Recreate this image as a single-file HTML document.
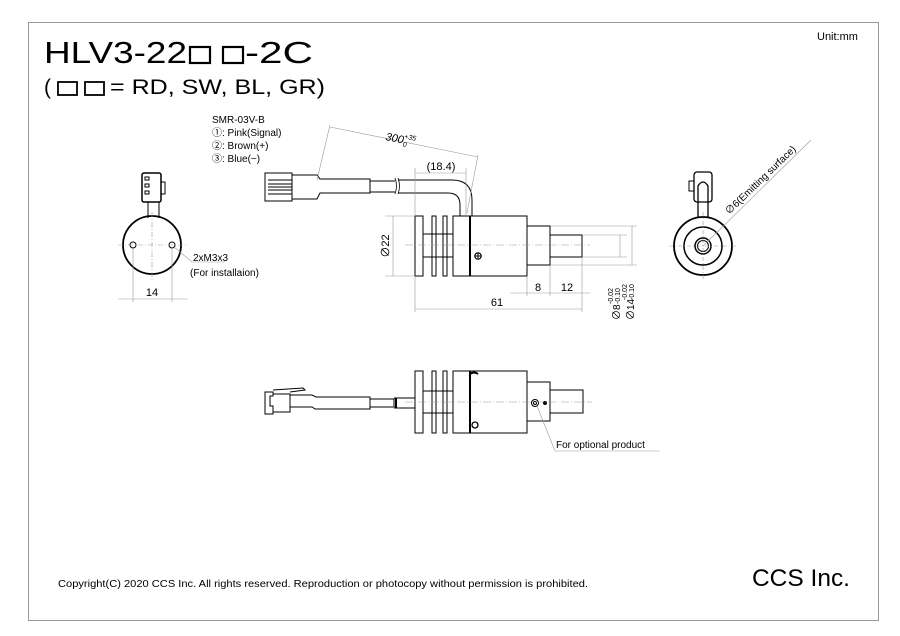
<!DOCTYPE html>
<html><head><meta charset="utf-8"><style>
html,body{margin:0;padding:0;background:#fff;}
svg{display:block;}
text{font-family:"Liberation Sans","Noto Sans CJK JP",sans-serif;fill:#000;}
</style></head><body>
<svg width="900" height="636" viewBox="0 0 900 636" xmlns="http://www.w3.org/2000/svg">
<rect x="28.5" y="22.5" width="850" height="598" fill="none" stroke="#999" stroke-width="1"/>
<text x="44" y="63" font-size="31" textLength="143" lengthAdjust="spacingAndGlyphs">HLV3-22</text>
<rect x="190" y="47" width="20" height="16" fill="none" stroke="#000" stroke-width="2.2"/>
<rect x="223" y="47" width="20" height="16" fill="none" stroke="#000" stroke-width="2.2"/>
<text x="245" y="63" font-size="31" textLength="68" lengthAdjust="spacingAndGlyphs">-2C</text>
<text x="44" y="94" font-size="21">(</text>
<rect x="58" y="82" width="19" height="13" fill="none" stroke="#000" stroke-width="1.8"/>
<rect x="85" y="82" width="19" height="13" fill="none" stroke="#000" stroke-width="1.8"/>
<text x="110" y="94" font-size="21" textLength="215" lengthAdjust="spacingAndGlyphs">= RD, SW, BL, GR)</text>
<text x="817" y="40" font-size="11">Unit:mm</text>
<text x="58" y="587" font-size="10.5" textLength="530" lengthAdjust="spacingAndGlyphs">Copyright(C) 2020 CCS Inc. All rights reserved. Reproduction or photocopy without permission is prohibited.</text>
<text x="752" y="586" font-size="24" textLength="98" lengthAdjust="spacingAndGlyphs">CCS Inc.</text>

<g font-size="10">
<text x="212" y="123">SMR-03V-B</text>
<text x="212" y="136">①: Pink(Signal)</text>
<text x="212" y="149">②: Brown(+)</text>
<text x="212" y="162">③: Blue(−)</text>
</g>

<!-- left view -->
<g fill="none" stroke="#000">
<rect x="142" y="173" width="19" height="29" rx="2" stroke-width="1.5"/>
<rect x="145" y="177" width="4" height="3" stroke-width="1"/><rect x="145" y="184" width="4" height="3" stroke-width="1"/><rect x="145" y="191" width="4" height="3" stroke-width="1"/>
<rect x="161" y="182" width="4" height="12" stroke-width="1"/>
<line x1="148" y1="202" x2="148" y2="218" stroke-width="1"/><line x1="159" y1="202" x2="159" y2="218" stroke-width="1"/>
<circle cx="152" cy="245" r="29" stroke-width="1.8"/>
<circle cx="133" cy="245" r="3" stroke-width="1"/><circle cx="172" cy="245" r="3" stroke-width="1"/>
<g stroke="#999" stroke-width="0.6" stroke-dasharray="5,2,1,2">
<line x1="152" y1="212" x2="152" y2="280"/><line x1="118" y1="245" x2="186" y2="245"/>
</g>
<g stroke="#999" stroke-width="0.6">
<line x1="133" y1="248" x2="133" y2="302"/><line x1="172" y1="248" x2="172" y2="302"/>
<line x1="118" y1="299" x2="188" y2="299"/>
<polyline points="174,247 192,262 225,262"/>
</g>
</g>
<text x="152" y="296" font-size="11" text-anchor="middle">14</text>
<text x="193" y="261" font-size="10">2xM3x3</text>
<text x="190" y="276" font-size="10">(For installaion)</text>

<!-- top main view -->
<g fill="none" stroke="#000" stroke-width="1">
<rect x="265" y="173" width="27" height="28"/>
<line x1="268" y1="180" x2="292" y2="180"/><line x1="268" y1="194" x2="292" y2="194"/>
<line x1="268" y1="184" x2="292" y2="184"/><line x1="268" y1="187" x2="292" y2="187"/><line x1="268" y1="190" x2="292" y2="190"/>
<path d="M292,175 H317 L320,179 H370 V193 H320 L317,199 H292"/>
<path d="M370,181 H395 M370,192 H395"/>
<path d="M398,180 H452 Q472,180 472,200 V216 M398,193 H448 Q460,193 460,205 V216"/>
<path d="M395,178 q3,8 0,16 M398,178 q3,8 0,16" stroke-width="0.8"/>
<rect x="415" y="216" width="8" height="60"/>
<rect x="432" y="216" width="4" height="60"/>
<rect x="443" y="216" width="4" height="60"/>
<line x1="423" y1="234" x2="453" y2="234"/><line x1="423" y1="257" x2="453" y2="257"/>
<rect x="453" y="216" width="17" height="60"/>
<line x1="470" y1="216" x2="470" y2="276" stroke-width="2"/>
<rect x="470" y="216" width="57" height="60"/>
<rect x="527" y="226" width="23" height="39"/>
<rect x="550" y="235" width="32" height="22"/>
<circle cx="478" cy="256" r="3.2" stroke-width="1.2"/><path d="M474.8,256 H481.2 M478,252.8 V259.2"/>
</g>
<g stroke="#999" stroke-width="0.6" fill="none">
<line x1="405" y1="245" x2="590" y2="245" stroke-dasharray="8,2,1,2"/>
<line x1="393" y1="216" x2="393" y2="276"/>
<line x1="385" y1="216" x2="415" y2="216"/><line x1="385" y1="276" x2="415" y2="276"/>
<line x1="415" y1="168" x2="415" y2="215"/><line x1="466" y1="168" x2="466" y2="215"/>
<line x1="415" y1="173" x2="466" y2="173"/>
<line x1="330" y1="127" x2="478" y2="157"/>
<line x1="330" y1="125" x2="317" y2="180"/><line x1="478" y1="155" x2="467" y2="213"/>
<line x1="415" y1="277" x2="415" y2="312"/><line x1="582" y1="258" x2="582" y2="312"/>
<line x1="415" y1="309" x2="582" y2="309"/>
<line x1="550" y1="266" x2="550" y2="296"/><line x1="527" y1="277" x2="527" y2="296"/>
<line x1="510" y1="293" x2="590" y2="293"/>
<line x1="583" y1="235" x2="627" y2="235"/><line x1="583" y1="257" x2="627" y2="257"/>
<line x1="551" y1="226" x2="637" y2="226"/><line x1="551" y1="265" x2="637" y2="265"/>
<line x1="620" y1="235" x2="620" y2="257"/><line x1="632" y1="226" x2="632" y2="265"/>
</g>
<text x="441" y="170" font-size="11" text-anchor="middle">(18.4)</text>
<text x="385" y="140" font-size="11" font-style="italic" transform="rotate(11 385 140)">300<tspan font-size="7" dy="-5">+35</tspan><tspan font-size="7" dx="-12" dy="8">0</tspan></text>
<text x="389" y="246" font-size="11" text-anchor="middle" transform="rotate(-90 389 246)">∅22</text>
<text x="497" y="306" font-size="11" text-anchor="middle">61</text>
<text x="538" y="291" font-size="11" text-anchor="middle">8</text>
<text x="567" y="291" font-size="11" text-anchor="middle">12</text>
<g transform="translate(620,320) rotate(-90)"><text x="0" y="0" font-size="10">∅8</text><text x="16" y="-7" font-size="7">-0.02</text><text x="16" y="0" font-size="7">-0.10</text></g>
<g transform="translate(634,320) rotate(-90)"><text x="0" y="0" font-size="10">∅14</text><text x="20" y="-7" font-size="7">-0.02</text><text x="20" y="0" font-size="7">-0.10</text></g>

<!-- right view -->
<g fill="none" stroke="#000">
<rect x="694" y="172" width="18" height="30" rx="3" stroke-width="1.3"/>
<rect x="689" y="181" width="5" height="10" stroke-width="1"/>
<path d="M698,218 V186 Q703,178 708,186 V218" stroke-width="1.3"/>
<circle cx="703" cy="246" r="29" stroke-width="1.8"/>
<circle cx="703" cy="246" r="19" stroke-width="1.5"/>
<circle cx="703" cy="246" r="8" stroke-width="1.5"/>
<circle cx="703" cy="246" r="5.5" stroke-width="1"/>
<g stroke="#999" stroke-width="0.6" stroke-dasharray="4,2,1,2"><line x1="703" y1="212" x2="703" y2="280"/><line x1="669" y1="246" x2="737" y2="246"/></g>
<line x1="703" y1="246" x2="811" y2="140" stroke="#999" stroke-width="0.6"/>
</g>
<text x="729" y="215" font-size="10" transform="rotate(-44 729 215)">∅6(Emitting surface)</text>

<!-- bottom view -->
<g fill="none" stroke="#000" stroke-width="1">
<path d="M265,392 H273 V396 H270 V406 H273 V414 H265 Z M273,394 H290 V412 H273"/>
<path d="M273,390 L303,388 L305,390 L290,392"/>
<path d="M290,395 H312 L316,397 H370 V409 H315 L312,407 H290"/>
<path d="M370,399 H394 V407 H370 M394,398 H415 M394,408 H415"/>
<line x1="396" y1="398" x2="396" y2="408" stroke-width="2"/>
<rect x="415" y="371" width="8" height="62"/>
<rect x="432" y="371" width="4" height="62"/>
<rect x="443" y="371" width="4" height="62"/>
<line x1="423" y1="391" x2="453" y2="391"/><line x1="423" y1="413" x2="453" y2="413"/>
<rect x="453" y="371" width="17" height="62"/>
<line x1="470" y1="371" x2="470" y2="433" stroke-width="2"/>
<rect x="470" y="371" width="57" height="62"/>
<rect x="527" y="382" width="23" height="39"/>
<rect x="550" y="390" width="33" height="23"/>
<circle cx="535" cy="403" r="3.5"/><circle cx="535" cy="403" r="1.5"/>
<circle cx="545" cy="403" r="1.5" fill="#000"/>
<path d="M470,374 q4,-3 8,0" stroke-width="2"/><circle cx="475" cy="425" r="3" stroke-width="1.3"/>
</g>
<line x1="405" y1="402" x2="592" y2="402" stroke="#999" stroke-width="0.6" stroke-dasharray="8,2,1,2"/>
<polyline points="537,406 555,451 660,451" fill="none" stroke="#999" stroke-width="0.6"/>
<text x="556" y="448" font-size="10">For optional product</text>
</svg>
</body></html>
